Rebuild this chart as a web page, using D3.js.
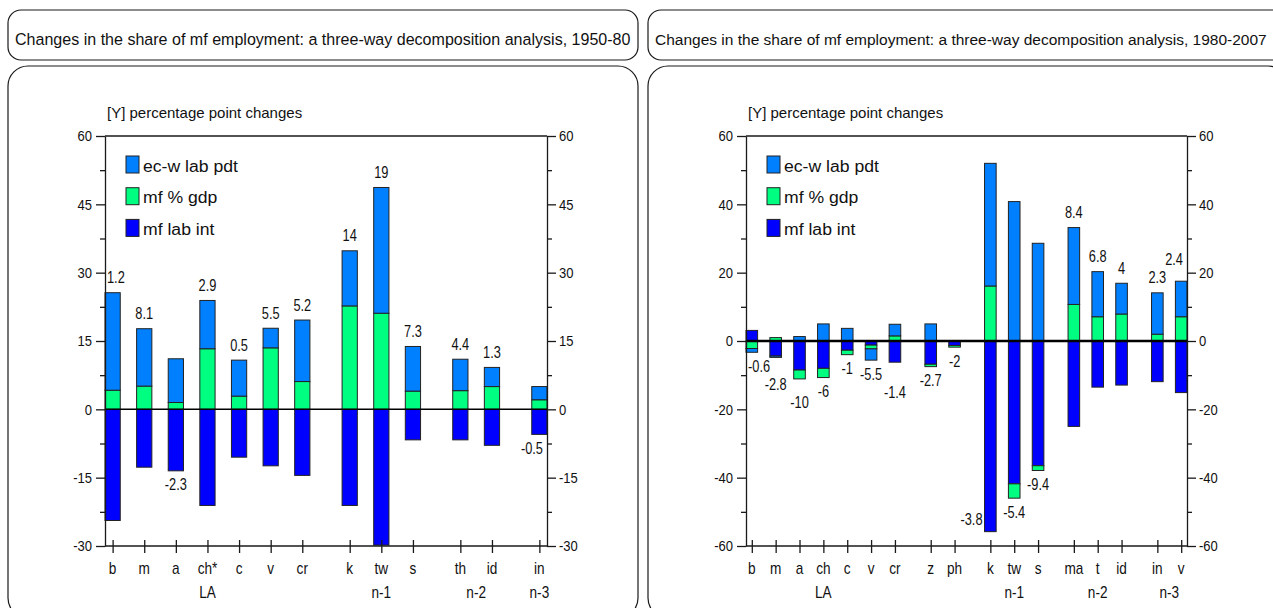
<!DOCTYPE html>
<html><head><meta charset="utf-8">
<script src="https://cdn.jsdelivr.net/npm/d3@7"></script>
<style>
body{margin:0;background:#fff;}
svg{display:block;}
text{font-family:"Liberation Sans",Arial,sans-serif;fill:#111;}
</style></head>
<body>
<svg id="chart" width="1273" height="608"></svg>
<script>
// ---------- data ----------
const seriesKeys = ["labint", "gdp", "ecw"];
const seriesNames = ["ec-w lab pdt", "mf % gdp", "mf lab int"];

const leftTitle = "Changes in the share of mf employment: a three-way decomposition analysis, 1950-80";
const leftCats   = ["b","m","a","ch*","c","v","cr","k","tw","s","th","id","in"];
const leftGroups = ["LA","LA","LA","LA","LA","LA","LA","n-1","n-1","n-1","n-2","n-2","n-3"];
const leftEcw    = [21.4,12.6,9.6,10.6,7.9,4.3,13.5,12.1,27.6,9.8,6.9,4.2,2.9];
const leftGdp    = [4.2,5.1,1.5,13.3,2.9,13.5,6.1,22.7,21.1,4.0,4.1,5.0,2.1];
const leftLabInt = [-24.4,-12.7,-13.5,-21.1,-10.5,-12.4,-14.5,-21.1,-29.8,-6.7,-6.7,-7.9,-5.5];
const leftTotals = ["1.2","8.1","-2.3","2.9","0.5","5.5","5.2","14","19","7.3","4.4","1.3","-0.5"];
const leftTicks  = [-30,-15,0,15,30,45,60];

const rightTitle = "Changes in the share of mf employment: a three-way decomposition analysis, 1980-2007";
const rightCats   = ["b","m","a","ch","c","v","cr","z","ph","k","tw","s","ma","t","id","in","v"];
const rightGroups = ["LA","LA","LA","LA","LA","LA","LA","","","n-1","n-1","n-1","n-2","n-2","n-2","n-3","n-3"];
const rightEcw    = [-1.1,-0.4,1.3,5.0,3.7,-3.3,3.4,5.0,0,35.9,40.8,28.6,22.5,13.2,9.0,12.1,10.4];
const rightGdp    = [-2.2,1.0,-2.6,-2.7,-1.3,-1.1,1.5,-0.7,-0.5,16.1,-4.2,-1.4,10.7,7.1,7.9,2.0,7.1];
const rightLabInt = [3.1,-4.4,-8.5,-8.0,-2.7,-1.2,-6.2,-6.8,-1.3,-55.8,-41.8,-36.5,-25.0,-13.5,-12.9,-11.9,-15.1];
const rightTotals = ["-0.6","-2.8","-10","-6","-1","-5.5","-1.4","-2.7","-2","-3.8","-5.4","-9.4","8.4","6.8","4","2.3","2.4"];
const rightTicks  = [-60,-40,-20,0,20,40,60];

// ---------- styles ----------
const colors = {ecw:"#0080ff", gdp:"#00ff80", labint:"#0000ff"};
const svg = d3.select("#chart");
const ink = "#1a1a1a";

function squeeze(sel, f){
  sel.each(function(){
    const L = this.getComputedTextLength();
    this.setAttribute("textLength", (L*f).toFixed(2));
    this.setAttribute("lengthAdjust", "spacingAndGlyphs");
  });
  return sel;
}

function panel(cfg){
  const g = svg.append("g");
  // boxes
  g.append("rect").attr("x",cfg.bx).attr("y",10).attr("width",cfg.bw).attr("height",50)
    .attr("rx",13).attr("fill","none").attr("stroke",ink).attr("stroke-width",1.2);
  g.append("rect").attr("x",cfg.bx).attr("y",66).attr("width",cfg.bw).attr("height",552)
    .attr("rx",20).attr("fill","none").attr("stroke",ink).attr("stroke-width",1.2);
  const tt = g.append("text").attr("x",cfg.bx+7).attr("y",45).attr("font-size",17).text(cfg.title);
  const natural = tt.node().getComputedTextLength();
  tt.attr("font-size", (17*cfg.titleW/natural).toFixed(2));

  const x0=cfg.x0, x1=cfg.x1, y0=136, y1=546;
  const y = d3.scaleLinear().domain([cfg.ticks[0], cfg.ticks[cfg.ticks.length-1]]).range([y1,y0]);

  // slot positions derived from group changes
  const slots=[]; let s=0;
  cfg.groups.forEach((gr,i)=>{ if(i>0){ s += (gr!==cfg.groups[i-1]) ? 1.5 : 1; } slots.push(s); });
  const maxSlot = s;
  const step = (x1-x0)/(maxSlot+1);
  const bw = step/2;
  const x = d3.scaleLinear().domain([0,maxSlot]).range([x0+bw/2, x1-bw/2]);

  const rows = cfg.cats.map((c,i)=>({cat:c, i, ecw:cfg.ecw[i], gdp:cfg.gdp[i], labint:cfg.labint[i]}));
  const stacked = d3.stack().keys(seriesKeys).offset(d3.stackOffsetDiverging)(rows);

  // bars
  stacked.forEach(layer=>{
    g.append("g").selectAll("rect").data(layer).join("rect")
      .attr("x", d=>x(slots[d.data.i])-bw/2)
      .attr("width", bw)
      .attr("y", d=>y(Math.max(d[0],d[1])))
      .attr("height", d=>Math.abs(y(d[0])-y(d[1])))
      .attr("fill", colors[layer.key])
      .attr("stroke", "#222").attr("stroke-width", d=>Math.abs(d[1]-d[0])>0?1:0);
  });

  // zero line
  g.append("line").attr("x1",x0).attr("x2",x1).attr("y1",y(0)).attr("y2",y(0))
    .attr("stroke","#000").attr("stroke-width",cfg.zeroW);

  // frame top
  g.append("line").attr("x1",x0).attr("x2",x1).attr("y1",y0).attr("y2",y0).attr("stroke",ink).attr("stroke-width",1.3);

  // y axes
  const fmt = d=>String(d);
  const minor = d3.range(cfg.ticks.length-1).map(k=>(cfg.ticks[k]+cfg.ticks[k+1])/2);
  const axL = g.append("g").attr("transform",`translate(${x0},0)`)
    .call(d3.axisLeft(y).tickValues(cfg.ticks).tickSize(9).tickSizeOuter(0).tickPadding(4).tickFormat(fmt));
  const axLm = g.append("g").attr("transform",`translate(${x0},0)`)
    .call(d3.axisLeft(y).tickValues(minor).tickSize(5).tickSizeOuter(0).tickFormat(""));
  const axR = g.append("g").attr("transform",`translate(${x1},0)`)
    .call(d3.axisRight(y).tickValues(cfg.ticks).tickSize(9).tickSizeOuter(0).tickPadding(3).tickFormat(fmt));
  const axRm = g.append("g").attr("transform",`translate(${x1},0)`)
    .call(d3.axisRight(y).tickValues(minor).tickSize(5).tickSizeOuter(0).tickFormat(""));
  [axL,axLm,axR,axRm].forEach(a=>{
    a.selectAll("path,line").attr("stroke",ink).attr("stroke-width",1.3);
    a.selectAll("text").attr("font-size",15.5).attr("font-family",null).attr("fill","#111");
    squeeze(a.selectAll("text"), 0.84);
  });
  axLm.select(".domain").remove(); axRm.select(".domain").remove();

  // x axis
  const axB = g.append("g").attr("transform",`translate(0,${y1})`)
    .call(d3.axisBottom(x).tickValues(slots).tickSize(7).tickSizeOuter(0).tickFormat(""));
  axB.select(".domain").attr("d",`M${x0},0H${x1}`);
  axB.selectAll(".tick line").attr("y1",-6);
  axB.selectAll("path,line").attr("stroke",ink).attr("stroke-width",1.3);

  // category labels
  squeeze(g.append("g").selectAll("text").data(cfg.cats).join("text")
    .attr("x",(d,i)=>x(slots[i])).attr("y",574).attr("text-anchor","middle")
    .attr("font-size",17).text(d=>d), 0.8);
  // group labels
  const groupNames = [...new Set(cfg.groups)].filter(d=>d!=="");
  groupNames.forEach(gn=>{
    const idx = cfg.groups.map((d,i)=>d===gn?i:-1).filter(i=>i>=0);
    const cx = (x(slots[idx[0]])+x(slots[idx[idx.length-1]]))/2;
    squeeze(g.append("text").attr("x",cx).attr("y",598).attr("text-anchor","middle").attr("font-size",17).text(gn), 0.8);
  });

  // legend
  const legOrder = ["ecw","gdp","labint"];
  legOrder.forEach((k,j)=>{
    const ly = y0+20+j*31.7;
    g.append("rect").attr("x",x0+21).attr("y",ly).attr("width",13).attr("height",17)
      .attr("fill",colors[k]).attr("stroke","#222").attr("stroke-width",1);
    squeeze(g.append("text").attr("x",x0+38).attr("y",ly+15.5).attr("font-size",16).text(seriesNames[j]), 1.1);
  });

  // Y title
  g.append("text").attr("x",x0+2).attr("y",118).attr("font-size",15).text("[Y] percentage point changes");

  // total labels
  const placed=[];
  rows.forEach((r,i)=>{
    const top = d3.max(stacked, l=>Math.max(l[i][0],l[i][1]));
    const bot = d3.min(stacked, l=>Math.min(l[i][0],l[i][1]));
    const val = +cfg.totals[i];
    const t = g.append("text").attr("font-size",16).attr("text-anchor","middle").text(cfg.totals[i]);
    squeeze(t, 0.8);
    const w = +t.attr("textLength");
    const h = 14;
    let cx = x(slots[i]), cy;
    if(val>=0){ cy = y(top)-15; }
    else {
      cy = y(bot)+14;
      if(cy+8 > y1-2){ cx = x(slots[i])-bw/2-2-w/2; cy = y(bot)-12; }
    }
    cx = Math.max(x0+2+w/2, Math.min(x1-4-w/2, cx));
    let moved=true, guard=0;
    while(moved && guard<10){
      moved=false; guard++;
      for(const p of placed){
        if(Math.abs(p.cx-cx) < (p.w+w)/2+6 && Math.abs(p.cy-cy) < h+2){
          cy = val>=0 ? p.cy-h-4 : p.cy+h+4; moved=true;
        }
      }
    }
    placed.push({cx,cy,w});
    t.attr("x",cx).attr("y",cy+5.5);
  });
}

panel({bx:8, bw:630, title:leftTitle, titleW:616, x0:105, x1:547, ticks:leftTicks, cats:leftCats, groups:leftGroups,
  ecw:leftEcw, gdp:leftGdp, labint:leftLabInt, totals:leftTotals, zeroW:1.5});
panel({bx:648, bw:640, title:rightTitle, titleW:612, x0:746, x1:1187, ticks:rightTicks, cats:rightCats, groups:rightGroups,
  ecw:rightEcw, gdp:rightGdp, labint:rightLabInt, totals:rightTotals, zeroW:2.5});
</script>
</body></html>
